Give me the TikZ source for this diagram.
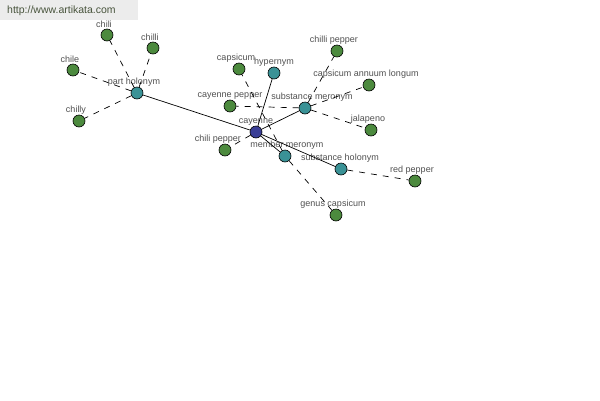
\documentclass[tikz,border=0pt]{standalone}
\usepackage{fontspec}
\setmainfont{Liberation Sans}
\usepackage{xcolor}
\usetikzlibrary{positioning}
\definecolor{leafgreen}{RGB}{76,138,62}
\definecolor{reltea}{RGB}{58,146,150}
\definecolor{rootblue}{RGB}{58,62,150}
\definecolor{lblgray}{RGB}{80,80,80}
\definecolor{markgray}{RGB}{236,236,236}
\definecolor{marktext}{RGB}{72,84,60}

\begin{document}
\begin{tikzpicture}[x=1pt,y=-1pt,font=\fontsize{9}{10}\selectfont,
  dot/.style={circle,draw=black,line width=0.6pt,minimum size=12pt,inner sep=0pt},
  leaf/.style={dot,fill=leafgreen},
  rel/.style={dot,fill=reltea},
  root/.style={dot,fill=rootblue},
  lbl/.style={text=lblgray,inner sep=0.5pt,xshift=-3pt},
  link/.style={draw=black,line width=0.7pt},
  weak/.style={draw=black,line width=0.7pt,dash pattern=on 6pt off 6pt}]
  \useasboundingbox (0,0) rectangle (600,400);
  \node[fill=markgray,minimum width=138pt,minimum height=20pt,anchor=north west,inner sep=0pt] (mark) at (0,0) {};
  \node[text=marktext,font=\fontsize{10.5}{12}\selectfont,anchor=west,inner sep=0pt] (marktxt) at (7,11) {http://www.artikata.com};
  % centre and relations
  \node[root,label={[lbl,xshift=3pt]above:cayenne}] (cay) at (256,132) {};
  \node[rel,label={[lbl]above:part holonym}] (ph) at (137,93) {};
  \node[rel,label={[lbl,xshift=3pt]above:hypernym}] (hyp) at (274,73) {};
  \node[rel,label={[lbl,xshift=10pt]above:substance meronym}] (sm) at (305,108) {};
  \node[rel,label={[lbl,xshift=5pt]above:member meronym}] (mm) at (285,156) {};
  \node[rel,label={[lbl,xshift=2pt]above:substance holonym}] (sh) at (341,169) {};
  % leaves
  \node[leaf,label={[lbl]above:chili}] (chili) at (107,35) {};
  \node[leaf,label={[lbl]above:chilli}] (chilli) at (153,48) {};
  \node[leaf,label={[lbl]above:chile}] (chile) at (73,70) {};
  \node[leaf,label={[lbl]above:chilly}] (chilly) at (79,121) {};
  \node[leaf,label={[lbl]above:capsicum}] (caps) at (239,69) {};
  \node[leaf,label={[lbl]above:chilli pepper}] (chlp) at (337,51) {};
  \node[leaf,label={[lbl]above:capsicum annuum longum}] (cal) at (369,85) {};
  \node[leaf,label={[lbl,xshift=3pt]above:cayenne pepper}] (cayp) at (230,106) {};
  \node[leaf,label={[lbl]above:jalapeno}] (jal) at (371,130) {};
  \node[leaf,label={[lbl,xshift=-4pt]above:chili pepper}] (chip) at (225,150) {};
  \node[leaf,label={[lbl]above:red pepper}] (redp) at (415,181) {};
  \node[leaf,label={[lbl]above:genus capsicum}] (genc) at (336,215) {};
  % links
  \foreach \r in {ph,hyp,sm,mm,sh} \path[link] (cay) -- (\r);
  \foreach \l in {chili,chilli,chile,chilly} \path[weak] (ph) -- (\l);
  \foreach \l in {chlp,cal,cayp,jal} \path[weak] (sm) -- (\l);
  \path[weak] (mm) -- (caps); \path[weak] (mm) -- (genc);
  \path[weak] (sh) -- (redp); \path[weak] (cay) -- (chip);
\end{tikzpicture}
\end{document}
